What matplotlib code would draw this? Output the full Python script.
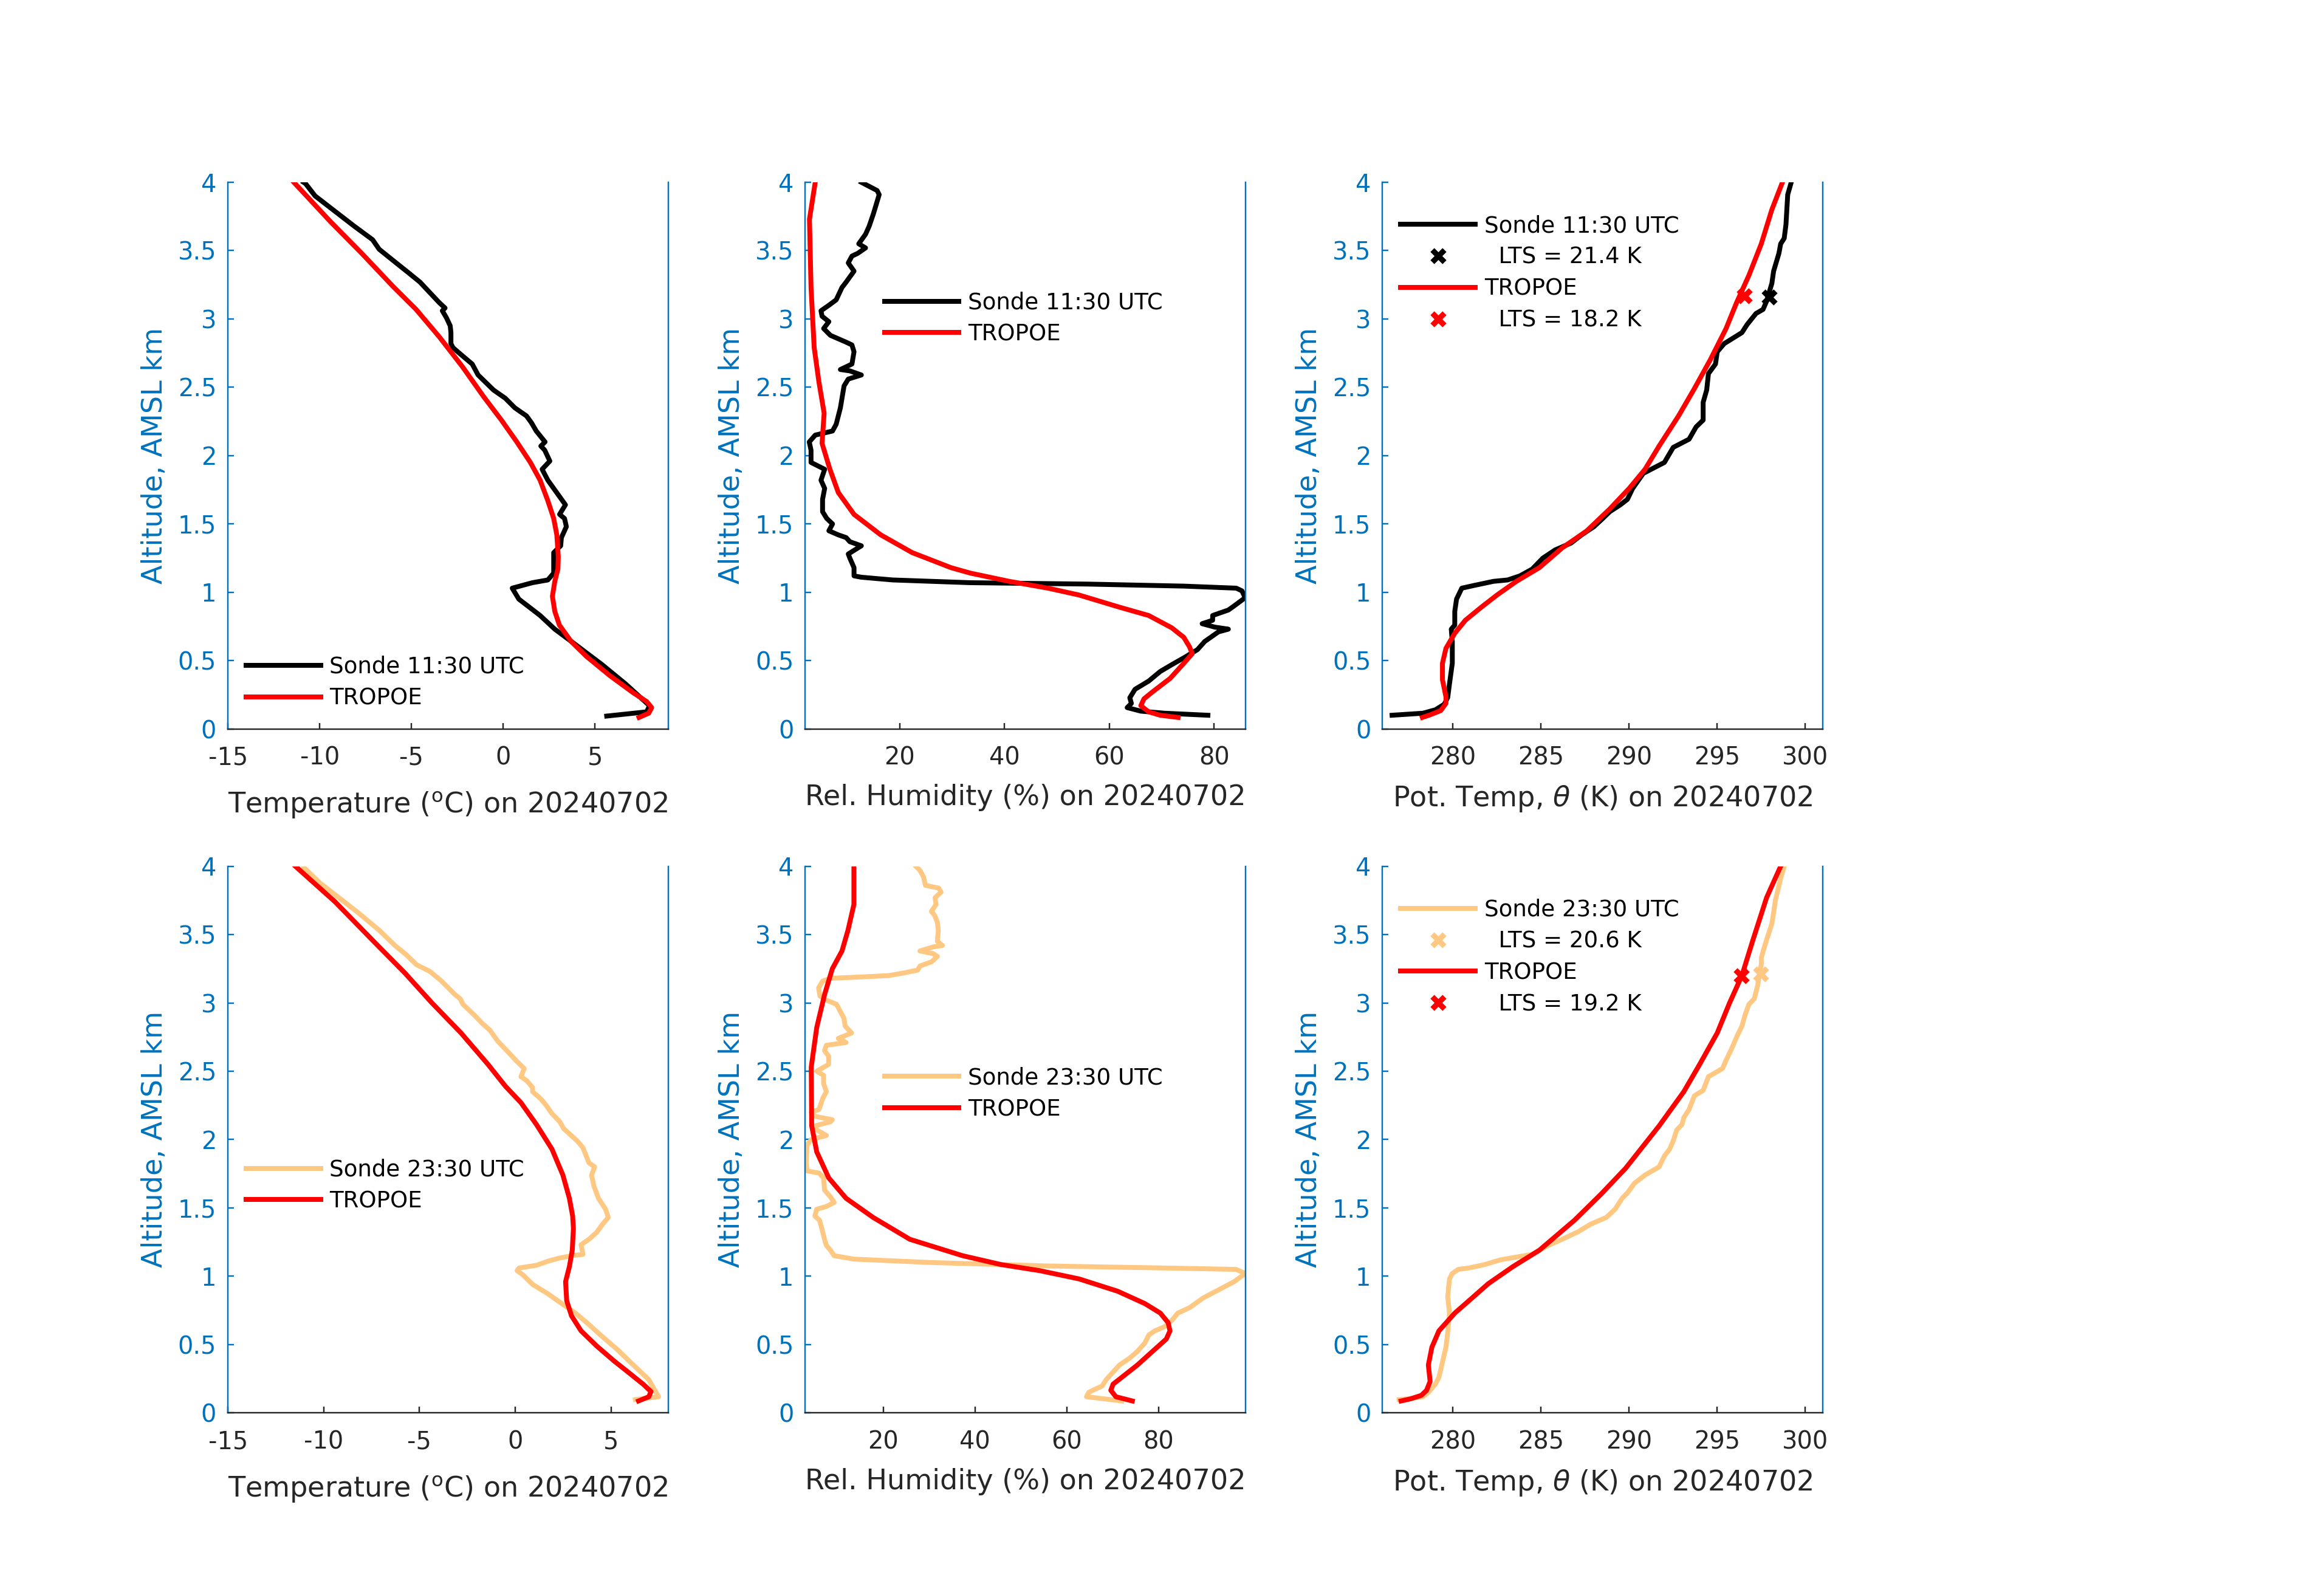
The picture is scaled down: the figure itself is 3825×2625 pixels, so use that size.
import numpy as np
import matplotlib
matplotlib.use("Agg")
import matplotlib.pyplot as plt

plt.rcParams['font.family'] = ['DejaVu Sans']
plt.rcParams['axes.unicode_minus'] = False
plt.rcParams['mathtext.fontset'] = 'dejavusans'

BLUE = '#0072BD'
GREY = '#262626'
ORANGE = '#FFC882'
RED = '#FF0000'

# ---- temperature, 11:30 UTC
t_am_sonde_z = [0.094,0.125,0.17,0.33,0.47,0.62,0.73,0.83,0.95,1.03,1.07,1.09,1.14,1.29,1.34,1.40,1.48,1.54,1.57,1.64,
                1.70,1.82,1.90,1.96,2.04,2.07,2.10,2.18,2.24,2.29,2.35,2.42,2.48,2.59,2.67,2.73,2.79,2.82,2.90,2.95,
                3.01,3.06,3.08,3.12,3.18,3.27,3.34,3.43,3.51,3.58,3.68,3.79,3.90,3.99,4.0]
t_am_sonde = [5.64,7.82,7.97,6.66,5.39,3.91,2.81,2.01,0.85,0.49,1.59,2.43,2.75,2.75,3.13,3.17,3.44,3.34,3.07,3.39,
              3.07,2.43,2.12,2.54,2.26,2.05,2.28,1.80,1.54,1.27,0.63,0.11,-0.53,-1.37,-1.69,-2.22,-2.74,-2.85,-2.85,-2.89,
              -3.10,-3.32,-3.17,-3.49,-3.91,-4.54,-5.18,-6.02,-6.76,-7.12,-8.13,-9.19,-10.25,-10.77,-10.88]
t_am_tro_z = [0.084,0.115,0.156,0.20,0.265,0.39,0.53,0.64,0.76,0.86,0.97,1.08,1.17,1.26,1.42,1.54,1.67,1.82,1.95,2.10,
              2.26,2.43,2.65,2.87,3.07,3.24,3.48,3.71,4.0]
t_am_tro = [7.40,7.93,8.09,7.82,7.08,5.81,4.54,3.70,3.06,2.81,2.68,2.81,2.98,3.00,2.92,2.75,2.43,2.01,1.48,0.74,
            -0.10,-1.06,-2.22,-3.49,-4.75,-6.02,-7.71,-9.40,-11.41]

# ---- temperature, 23:30 UTC
t_pm_sonde_z = [0.097,0.118,0.165,0.243,0.35,0.46,0.57,0.66,0.73,0.79,0.87,0.94,1.01,1.04,1.06,1.08,1.11,1.13,1.15,1.16,
                1.23,1.27,1.32,1.38,1.43,1.49,1.57,1.66,1.74,1.80,1.83,1.94,1.99,2.08,2.13,2.19,2.25,2.30,2.35,2.38,
                2.43,2.46,2.52,2.57,2.63,2.72,2.80,2.85,2.91,2.99,3.03,3.06,3.16,3.23,3.28,3.35,3.42,3.53,3.66,3.77,
                3.88,3.99]
t_pm_sonde = [6.28,7.49,7.29,6.98,6.17,5.36,4.45,3.74,3.14,2.53,1.72,0.91,0.40,0.10,0.20,1.11,1.72,2.23,2.94,3.54,
              3.44,3.85,4.25,4.56,4.86,4.72,4.35,4.11,3.99,4.15,3.85,3.54,3.24,2.53,2.33,1.92,1.62,1.32,0.91,0.91,
              0.61,0.30,0.47,0.10,-0.30,-0.91,-1.32,-1.72,-2.13,-2.73,-2.87,-3.14,-3.85,-4.45,-5.16,-5.67,-6.28,-7.09,-8.20,-9.21,
              -10.22,-11.03]
t_pm_tro_z = [0.087,0.118,0.156,0.21,0.29,0.38,0.49,0.60,0.71,0.82,0.96,1.07,1.19,1.35,1.44,1.57,1.74,1.93,2.11,2.27,
              2.39,2.55,2.78,3.00,3.22,3.45,3.74,4.0]
t_pm_tro = [6.44,6.98,7.09,6.68,5.97,5.16,4.25,3.44,2.94,2.69,2.63,2.83,2.98,3.04,3.00,2.83,2.49,1.92,1.11,0.30,
            -0.51,-1.42,-2.83,-4.35,-5.77,-7.39,-9.41,-11.48]

# ---- relative humidity, 11:30 UTC
rh_am_sonde_z = [0.10,0.115,0.13,0.156,0.187,0.228,0.29,0.35,0.42,0.47,0.52,0.58,0.64,0.71,0.73,0.745,0.77,0.795,0.83,0.87,
                 0.90,0.96,1.01,1.03,1.045,1.06,1.07,1.09,1.11,1.12,1.18,1.25,1.28,1.34,1.37,1.40,1.42,1.45,1.50,1.54,
                 1.59,1.68,1.76,1.82,1.90,1.95,2.04,2.10,2.15,2.18,2.23,2.35,2.51,2.56,2.59,2.62,2.63,2.67,2.76,2.81,
                 2.83,2.88,2.93,2.98,3.02,3.06,3.10,3.14,3.23,3.27,3.35,3.41,3.46,3.48,3.52,3.55,3.62,3.68,3.77,3.91,
                 3.94,3.97,4.0]
rh_am_sonde = [78.8,70.5,66.0,63.4,64.2,63.9,64.9,67.5,69.7,71.9,74.2,76.8,78.2,80.8,82.7,80.1,77.7,79.7,79.7,82.7,
               83.8,85.9,85.3,84.2,74.2,55.7,33.5,18.7,12.7,11.3,11.3,10.5,10.2,12.7,10.5,9.8,8.3,6.5,7.2,6.1,
               5.3,5.3,5.7,5.0,5.7,3.1,3.1,2.76,3.9,7.2,7.9,8.7,9.4,10.2,12.7,10.5,8.7,10.9,11.3,10.9,
               9.8,6.8,5.5,6.5,5.2,5.0,6.5,7.9,9.0,9.8,11.3,10.2,10.9,12.0,13.5,12.2,13.5,14.2,15.0,16.1,
               15.7,14.2,12.7]
rh_am_tro_z = [0.084,0.10,0.125,0.17,0.22,0.27,0.37,0.48,0.55,0.60,0.67,0.74,0.83,0.89,0.98,1.03,1.08,1.14,1.18,1.29,
               1.42,1.57,1.73,1.90,2.09,2.31,2.54,2.79,3.23,3.73,4.0]
rh_am_tro = [73.1,69.7,67.5,66.0,66.6,68.2,71.6,74.2,75.8,75.3,74.2,71.9,67.5,62.0,54.2,48.3,40.9,33.5,29.8,22.4,
             16.4,11.3,8.3,6.7,5.2,5.6,4.6,3.7,3.1,2.8,3.9]

# ---- relative humidity, 23:30 UTC
rh_pm_sonde_z = [0.087,0.118,0.15,0.17,0.196,0.243,0.306,0.35,0.40,0.45,0.51,0.57,0.60,0.63,0.68,0.73,0.77,0.84,0.90,0.96,
                 1.02,1.05,1.06,1.075,1.10,1.125,1.15,1.19,1.225,1.27,1.35,1.41,1.44,1.49,1.51,1.54,1.58,1.63,1.72,1.755,
                 1.77,1.83,1.96,2.0,2.03,2.07,2.10,2.13,2.145,2.17,2.20,2.22,2.30,2.35,2.41,2.47,2.50,2.55,2.61,2.65,
                 2.69,2.71,2.74,2.78,2.83,2.89,2.94,2.99,3.02,3.05,3.11,3.16,3.18,3.19,3.20,3.22,3.24,3.27,3.30,3.34,
                 3.36,3.38,3.41,3.42,3.45,3.53,3.59,3.64,3.67,3.72,3.77,3.81,3.84,3.86,3.92,3.97,4.0]
rh_pm_sonde = [72.0,64.3,64.8,66.0,67.7,68.6,70.3,71.5,73.7,75.4,77.0,77.9,79.2,81.3,83.0,84.2,86.8,89.7,93.1,96.5,
               98.9,96.9,81.3,55.9,30.5,13.6,9.3,8.5,7.6,7.2,6.6,6.1,5.1,5.5,7.6,9.3,8.5,7.2,7.0,6.0,
               3.4,3.2,3.4,4.3,7.6,5.5,5.1,8.5,8.9,5.1,4.3,6.0,6.8,7.6,7.0,7.0,5.5,8.1,8.1,7.2,
               7.6,11.9,10.2,13.1,11.7,11.4,10.6,9.8,7.6,6.2,5.9,6.8,8.5,15.3,21.2,24.6,27.5,28.0,30.5,31.8,
               30.9,28.0,30.9,32.9,31.8,32.0,31.8,31.2,30.5,31.5,31.3,32.6,32.1,29.2,28.8,28.0,27.1]
rh_pm_tro_z = [0.087,0.118,0.165,0.21,0.26,0.35,0.45,0.54,0.60,0.66,0.73,0.80,0.89,0.98,1.04,1.085,1.15,1.27,1.43,1.57,
               1.72,1.91,2.10,2.53,2.82,3.06,3.25,3.38,3.53,3.72,4.0]
rh_pm_tro = [74.3,70.7,69.6,70.1,72.0,75.4,78.7,81.7,82.5,82.1,80.4,77.0,71.1,62.7,54.2,45.7,37.3,25.8,17.8,11.9,
             8.1,5.5,4.4,4.3,5.5,7.2,8.9,11.0,12.3,13.6,13.6]

# ---- potential temperature, 11:30 UTC
th_am_sonde_z = [0.10,0.115,0.14,0.18,0.23,0.33,0.48,0.64,0.73,0.76,0.86,0.95,1.03,1.05,1.08,1.09,1.12,1.17,1.25,1.31,
                 1.36,1.42,1.48,1.54,1.59,1.64,1.68,1.76,1.87,1.95,2.06,2.12,2.21,2.26,2.39,2.48,2.60,2.67,2.76,2.82,
                 2.90,2.96,3.04,3.07,3.13,3.26,3.35,3.48,3.55,3.59,3.69,3.91,4.0]
th_am_sonde = [276.54,278.3,279.0,279.5,279.7,279.8,279.96,279.96,279.9,280.1,280.1,280.2,280.5,281.2,282.3,283.1,283.8,284.5,285.1,285.8,
               286.7,287.3,288.0,288.5,288.9,289.5,289.9,290.2,290.8,292.0,292.5,293.4,293.8,294.2,294.2,294.4,294.5,294.9,295.0,295.4,
               296.4,296.7,297.2,297.6,297.8,298.1,298.2,298.5,298.6,298.8,298.9,299.0,299.2]
th_am_tro_z = [0.084,0.103,0.134,0.187,0.234,0.36,0.48,0.59,0.70,0.795,0.89,0.98,1.08,1.18,1.325,1.45,1.61,1.76,1.90,2.07,
               2.29,2.49,2.70,2.93,3.12,3.32,3.55,3.80,4.0]
th_am_tro = [278.26,278.7,279.3,279.6,279.6,279.4,279.4,279.6,280.1,280.7,281.6,282.5,283.6,284.9,286.2,287.6,288.9,290.0,290.9,291.7,
             292.8,293.7,294.6,295.5,296.1,296.8,297.5,298.1,298.7]

# ---- potential temperature, 23:30 UTC
th_pm_sonde_z = [0.097,0.103,0.118,0.15,0.21,0.26,0.37,0.48,0.59,0.73,0.85,0.98,1.02,1.05,1.06,1.085,1.12,1.14,1.16,1.19,
                 1.225,1.27,1.325,1.38,1.43,1.49,1.57,1.61,1.68,1.74,1.77,1.80,1.88,1.93,1.99,2.07,2.11,2.16,2.22,2.32,
                 2.36,2.46,2.52,2.58,2.66,2.75,2.83,2.92,2.99,3.03,3.13,3.22,3.28,3.33,3.42,3.50,3.58,3.66,3.75,3.91,4.0]
th_pm_sonde = [276.94,277.5,278.3,278.6,279.0,279.2,279.4,279.6,279.7,279.8,279.7,279.8,279.96,280.3,280.9,281.8,282.7,283.6,284.5,284.9,
               285.4,286.2,287.1,287.8,288.7,289.2,289.6,289.9,290.3,290.9,291.3,291.7,292.0,292.3,292.5,292.7,293.0,293.1,293.4,293.7,
               294.2,294.5,295.3,295.5,295.8,296.1,296.4,296.6,296.8,297.1,297.3,297.4,297.5,297.5,297.7,297.9,298.1,298.2,298.3,298.6,298.8]
th_pm_tro_z = [0.087,0.103,0.128,0.165,0.23,0.35,0.48,0.60,0.73,0.82,0.945,1.07,1.19,1.41,1.60,1.79,2.10,2.35,2.55,2.78,
               3.0,3.2,3.45,3.77,4.0]
th_pm_tro = [277.05,277.6,278.2,278.5,278.7,278.6,278.8,279.2,280.1,280.9,282.0,283.4,284.9,286.9,288.4,289.8,291.7,293.1,294.0,295.0,
             295.7,296.4,297.0,297.8,298.6]

# LTS markers (theta at ~700 hPa) and values
lts_am_sonde = (297.95, 3.16, 21.4)
lts_am_tro = (296.55, 3.17, 18.2)
lts_pm_sonde = (297.47, 3.21, 20.6)
lts_pm_tro = (296.37, 3.20, 19.2)

yticks = [0, 0.5, 1, 1.5, 2, 2.5, 3, 3.5, 4]
ytick_labels = ['0', '0.5', '1', '1.5', '2', '2.5', '3', '3.5', '4']

fig = plt.figure(figsize=(15.3, 10.5), dpi=250)

lefts = [0.0981, 0.3465, 0.5949]
bottoms = [0.543, 0.1142]
W, H = 0.1895, 0.3427
LW = 2.3


def style(ax, xlim, xticks, xlabel, labelpad):
    ax.set_xlim(xlim)
    ax.set_ylim(0, 4)
    ax.set_xticks(xticks)
    ax.set_xticklabels([str(v) for v in xticks])
    ax.set_yticks(yticks)
    ax.set_yticklabels(ytick_labels)
    ax.spines['top'].set_visible(False)
    for s in ['left', 'right']:
        ax.spines[s].set_color(BLUE)
        ax.spines[s].set_linewidth(0.7)
    ax.spines['bottom'].set_color(GREY)
    ax.spines['bottom'].set_linewidth(0.7)
    ax.tick_params(axis='x', direction='in', length=3, width=0.7, color=GREY,
                   labelcolor=GREY, labelsize=11.5, pad=8)
    ax.tick_params(axis='y', direction='in', length=3, width=0.7, color=BLUE,
                   labelcolor=BLUE, labelsize=11.5, pad=5.5)
    ax.set_xlabel(xlabel, fontsize=13.3, color=GREY, labelpad=labelpad)
    ax.set_ylabel('Altitude, AMSL km', fontsize=13.3, color=BLUE, labelpad=4.5)


def add_legend(ax, handles, labels, x, yc):
    ax.legend(handles, labels, loc='center left', bbox_to_anchor=(x, yc),
              frameon=False, fontsize=10.7, handlelength=3.3, handletextpad=0.4,
              labelspacing=0.4, borderpad=0, borderaxespad=0, numpoints=1)


rows = [
    dict(tag='11:30', col='k',
         t=(t_am_sonde, t_am_sonde_z, t_am_tro, t_am_tro_z), txlim=(-15, 9), tleg=(0.041, 0.085),
         rh=(rh_am_sonde, rh_am_sonde_z, rh_am_tro, rh_am_tro_z), rhxlim=(2, 86), rhleg=(0.18, 0.751),
         th=(th_am_sonde, th_am_sonde_z, th_am_tro, th_am_tro_z), lts=(lts_am_sonde, lts_am_tro)),
    dict(tag='23:30', col=ORANGE,
         t=(t_pm_sonde, t_pm_sonde_z, t_pm_tro, t_pm_tro_z), txlim=(-15, 8), tleg=(0.041, 0.416),
         rh=(rh_pm_sonde, rh_pm_sonde_z, rh_pm_tro, rh_pm_tro_z), rhxlim=(3, 99), rhleg=(0.18, 0.584),
         th=(th_pm_sonde, th_pm_sonde_z, th_pm_tro, th_pm_tro_z), lts=(lts_pm_sonde, lts_pm_tro)),
]

for r, row in enumerate(rows):
    c = row['col']
    lab = 'Sonde %s UTC' % row['tag']

    # temperature
    ax = fig.add_axes([lefts[0], bottoms[r], W, H])
    xs, zs, xt, zt = row['t']
    l1, = ax.plot(xs, zs, color=c, lw=LW)
    l2, = ax.plot(xt, zt, color=RED, lw=LW)
    style(ax, row['txlim'], [-15, -10, -5, 0, 5], r'Temperature ($^{\mathrm{o}}$C) on 20240702', 9.5)
    add_legend(ax, [l1, l2], [lab, 'TROPOE'], *row['tleg'])

    # relative humidity
    ax = fig.add_axes([lefts[1], bottoms[r], W, H])
    xs, zs, xt, zt = row['rh']
    l1, = ax.plot(xs, zs, color=c, lw=LW)
    l2, = ax.plot(xt, zt, color=RED, lw=LW)
    style(ax, row['rhxlim'], [20, 40, 60, 80], 'Rel. Humidity (%) on 20240702', 6.5)
    add_legend(ax, [l1, l2], [lab, 'TROPOE'], *row['rhleg'])

    # potential temperature
    ax = fig.add_axes([lefts[2], bottoms[r], W, H])
    xs, zs, xt, zt = row['th']
    l1, = ax.plot(xs, zs, color=c, lw=LW)
    l2, = ax.plot(xt, zt, color=RED, lw=LW)
    ls, lt = row['lts']
    m1, = ax.plot([ls[0]], [ls[1]], 'x', color=c, ms=5.5, mew=2.6, ls='none')
    m2, = ax.plot([lt[0]], [lt[1]], 'x', color=RED, ms=5.5, mew=2.6, ls='none')
    style(ax, (276, 301), [280, 285, 290, 295, 300], r'Pot. Temp, $\theta$ (K) on 20240702', 6.5)
    add_legend(ax, [l1, m1, l2, m2],
               [lab, '  LTS = %.1f K' % ls[2], 'TROPOE', '  LTS = %.1f K' % lt[2]],
               0.041, 0.834)

fig.savefig('out.png', dpi=250)
